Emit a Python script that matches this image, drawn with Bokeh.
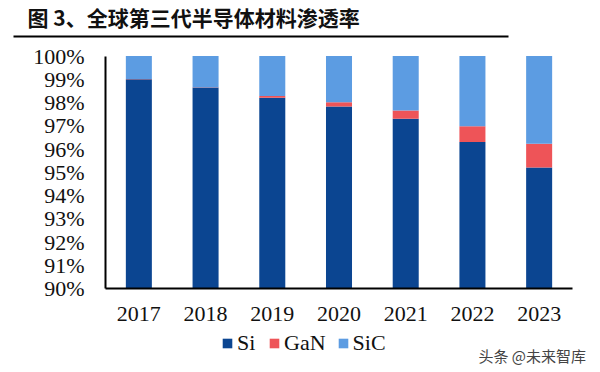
from bokeh.plotting import figure
from bokeh.models import (Range1d, FixedTicker, PrintfTickFormatter, Legend, LegendItem,
                          Label, BoxAnnotation, ColumnDataSource)
from bokeh.embed import file_html
from bokeh.resources import INLINE

years = ["2017", "2018", "2019", "2020", "2021", "2022", "2023"]
si = [99.0, 98.65, 98.2, 97.83, 97.3, 96.3, 95.2]
gan = [0.01, 0.01, 0.08, 0.18, 0.36, 0.68, 1.03]
sic = [0.99, 1.34, 1.72, 1.99, 2.34, 3.02, 3.77]
y_ticks = [90, 91, 92, 93, 94, 95, 96, 97, 98, 99, 100]
series = ["Si", "GaN", "SiC"]
colors = ["#0b4591", "#ee5458", "#5c9ce2"]
title_text = "图 3、全球第三代半导体材料渗透率"
watermark = "头条 @未来智库"

idx = list(range(len(years)))
base = y_ticks[0]
gan_top = [a + b for a, b in zip(si, gan)]
sic_top = [a + b for a, b in zip(gan_top, sic)]
source = ColumnDataSource(dict(x=idx, base=[base] * len(idx), si=si, gan_top=gan_top,
                               sic_top=sic_top))

W, H = 600, 372
# plot area: x from 105 to 572 px, y from 55.5 to 288 px (top-left origin)
ppx = (572 - 105) / len(years)
ppy = (288 - 55.5) / (y_ticks[-1] - y_ticks[0])
x0 = -0.5 - 105 / ppx
x1 = len(years) - 0.5 + (W - 572) / ppx
y1 = y_ticks[-1] + 55.5 / ppy
y0 = y_ticks[0] - (H - 288) / ppy

p = figure(width=W, height=H, x_range=Range1d(x0, x1), y_range=Range1d(y0, y1),
           output_backend="svg", toolbar_location=None,
           min_border_left=0, min_border_right=0, min_border_top=0, min_border_bottom=0)
p.outline_line_color = None
p.grid.visible = False

r_si = p.vbar(x="x", bottom="base", top="si", width=0.39, color=colors[0],
              line_color=None, source=source)
r_gan = p.vbar(x="x", bottom="si", top="gan_top", width=0.39, color=colors[1],
               line_color=None, source=source)
r_sic = p.vbar(x="x", bottom="gan_top", top="sic_top", width=0.39, color=colors[2],
               line_color=None, source=source)
rs = [r_si, r_gan, r_sic]

p.yaxis.fixed_location = -0.5
p.yaxis.bounds = (y_ticks[0], y_ticks[-1])
p.yaxis.ticker = FixedTicker(ticks=y_ticks)
p.yaxis.formatter = PrintfTickFormatter(format="%d%%")
p.yaxis.major_label_text_font = "Liberation Serif"
p.yaxis.major_label_text_font_size = "22px"
p.yaxis.major_label_text_color = "#111111"
p.yaxis.major_tick_out = 0
p.yaxis.major_tick_in = 0
p.yaxis.minor_tick_out = 0
p.yaxis.minor_tick_in = 0
p.yaxis.major_label_standoff = 21
p.yaxis.axis_line_width = 2
p.yaxis.axis_line_color = "black"

p.xaxis.fixed_location = base
p.xaxis.bounds = (-0.5, len(years) - 0.5)
p.xaxis.ticker = FixedTicker(ticks=idx)
p.xaxis.major_label_overrides = {i: y for i, y in zip(idx, years)}
p.xaxis.major_label_text_font = "Liberation Serif"
p.xaxis.major_label_text_font_size = "22px"
p.xaxis.major_label_text_color = "#111111"
p.xaxis.major_tick_out = 0
p.xaxis.major_tick_in = 0
p.xaxis.minor_tick_out = 0
p.xaxis.minor_tick_in = 0
p.xaxis.major_label_standoff = 18
p.xaxis.axis_line_width = 2
p.xaxis.axis_line_color = "black"

legend = Legend(items=[LegendItem(label=s, renderers=[r]) for s, r in zip(series, rs)],
                orientation="horizontal", location=(221, 16),
                glyph_width=12, glyph_height=12, label_standoff=4, spacing=11,
                padding=0, margin=0, border_line_color=None, background_fill_alpha=0,
                label_text_font="Liberation Serif", label_text_font_size="22px",
                label_text_color="#111111", label_height=22)
p.add_layout(legend, "center")

title = Label(x=27, y=H - 16, x_units="screen", y_units="screen",
              text=title_text, text_font="Noto Sans CJK SC",
              text_font_style="bold", text_font_size="21px", text_baseline="middle",
              text_color="#111111")
p.add_layout(title)

rule = BoxAnnotation(left=13, right=508, bottom=H - 37, top=H - 35,
                     left_units="screen", right_units="screen",
                     bottom_units="screen", top_units="screen",
                     fill_color="black", fill_alpha=1, line_color=None)
p.add_layout(rule)

wm = Label(x=478, y=H - 355, x_units="screen", y_units="screen",
           text=watermark, text_font="Noto Sans CJK SC", text_font_size="15px",
           text_baseline="middle", text_color="#444444")
p.add_layout(wm)

open("out.html", "w").write(file_html(p, INLINE))
